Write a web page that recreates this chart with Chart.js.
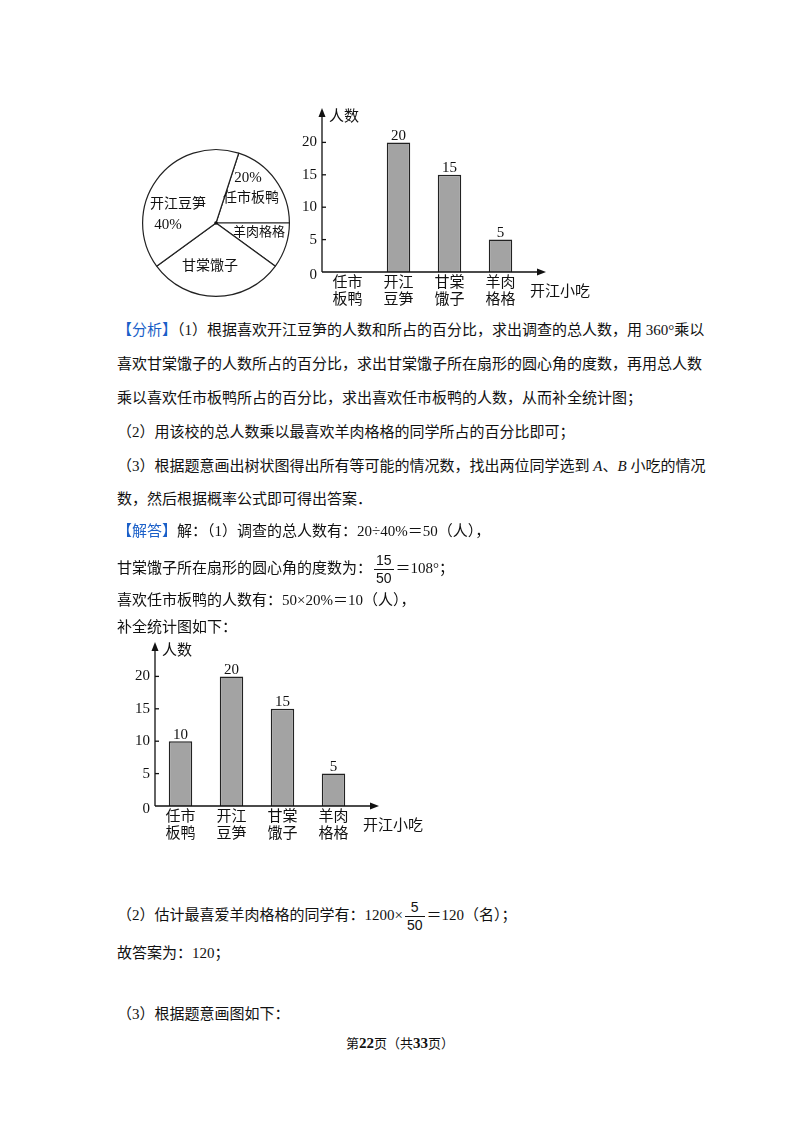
<!DOCTYPE html>
<html><head><meta charset="utf-8">
<script src="https://cdn.jsdelivr.net/npm/chart.js@4"></script>
<style>
body{margin:0;width:800px;height:1132px;background:#fff;position:relative;font-family:"Liberation Serif","Noto Sans CJK SC",serif;color:#111;}
.t{position:absolute;left:117px;font-size:15px;white-space:nowrap;line-height:20px;}
.b{color:#1a5fc8;}
.fr{display:inline-block;vertical-align:middle;text-align:center;font-family:"Liberation Sans",sans-serif;font-size:14px;line-height:17px;margin:0 2px;}
.fr span{display:block;padding:0 2px;}
.fr span:first-child{border-bottom:1px solid #111;}
canvas{position:absolute;}
</style></head><body>
<canvas id="pie" style="left:130px;top:130px;width:180px;height:180px" width="180" height="180"></canvas>
<canvas id="bar1" style="left:290px;top:95px;width:310px;height:220px" width="310" height="220"></canvas>
<canvas id="bar2" style="left:123px;top:630px;width:310px;height:225px" width="310" height="225"></canvas>

<div class="t" style="top:320px"><span class="b">【分析】</span>（1）根据喜欢开江豆笋的人数和所占的百分比，求出调查的总人数，用 360°乘以</div>
<div class="t" style="top:354px">喜欢甘棠馓子的人数所占的百分比，求出甘棠馓子所在扇形的圆心角的度数，再用总人数</div>
<div class="t" style="top:388px">乘以喜欢任市板鸭所占的百分比，求出喜欢任市板鸭的人数，从而补全统计图；</div>
<div class="t" style="top:422px">（2）用该校的总人数乘以最喜欢羊肉格格的同学所占的百分比即可；</div>
<div class="t" style="top:456px">（3）根据题意画出树状图得出所有等可能的情况数，找出两位同学选到 <i>A</i>、<i>B</i> 小吃的情况</div>
<div class="t" style="top:489px">数，然后根据概率公式即可得出答案．</div>
<div class="t" style="top:521px"><span class="b">【解答】</span>解：（1）调查的总人数有：20÷40%＝50（人），</div>
<div class="t" style="top:549px;line-height:38px">甘棠馓子所在扇形的圆心角的度数为：<span class="fr"><span>15</span><span>50</span></span>＝108°；</div>
<div class="t" style="top:590px">喜欢任市板鸭的人数有：50×20%＝10（人），</div>
<div class="t" style="top:617px">补全统计图如下：</div>
<div class="t" style="top:896px;line-height:38px">（2）估计最喜爱羊肉格格的同学有：1200×<span class="fr"><span>5</span><span>50</span></span>＝120（名）；</div>
<div class="t" style="top:943px">故答案为：120；</div>
<div class="t" style="top:1004px">（3）根据题意画图如下：</div>
<div class="t" style="top:1033px;left:0;width:800px;text-align:center;font-size:13px">第<b style="font-size:15px">22</b>页（共<b style="font-size:15px">33</b>页）</div>

<script>
const foods = [["任市","板鸭"],["开江","豆笋"],["甘棠","馓子"],["羊肉","格格"]];
const pieLabels = ["任市板鸭","羊肉格格","甘棠馓子","开江豆笋"];
const piePercent = [20, 10, 30, 40];
const countsPartial = [null, 20, 15, 5];
const countsFull = [10, 20, 15, 5];
const yTicks = [0, 5, 10, 15, 20];

const serif = '"Liberation Serif","Noto Sans CJK SC",serif';
const cjk = '"Noto Sans CJK SC",sans-serif';

// 饼图
new Chart(document.getElementById("pie"), {
  type: "pie",
  data: { labels: pieLabels, datasets: [{ data: piePercent, backgroundColor: "#fff", borderColor: "#222", borderWidth: 1.2 }] },
  options: {
    responsive: false, animation: false, rotation: 18,
    layout: { padding: { left: 12, top: 18, right: 20, bottom: 12 } },
    plugins: { legend: { display: false }, tooltip: { enabled: false } }
  },
  plugins: [{
    id: "pieText",
    afterDraw(c) {
      const arc = c.getDatasetMeta(0).data[0];
      const cx = arc.x, cy = arc.y, ctx = c.ctx;
      ctx.save();
      ctx.fillStyle = "#111";
      ctx.beginPath(); ctx.arc(cx, cy, 1.8, 0, Math.PI * 2); ctx.fill();
      ctx.textAlign = "center"; ctx.textBaseline = "middle";
      ctx.font = "14px " + cjk;
      ctx.fillText("任市板鸭", cx + 35, cy - 26);
      ctx.fillText("开江豆笋", cx - 38, cy - 20);
      ctx.fillText("甘棠馓子", cx - 6, cy + 42);
      ctx.font = "13px " + cjk;
      ctx.fillText("羊肉格格", cx + 43, cy + 8);
      ctx.font = "15px " + serif;
      ctx.fillText("20%", cx + 32, cy - 45);
      ctx.fillText("40%", cx - 48, cy + 2);
      ctx.restore();
    }
  }]
});

const axisPlugin = {
  id: "axes",
  afterDraw(c) {
    const ctx = c.ctx, x = c.scales.x, y = c.scales.y, a = c.chartArea;
    ctx.save();
    ctx.strokeStyle = "#111"; ctx.fillStyle = "#111"; ctx.lineWidth = 1.3;
    const x0 = a.left, y0 = y.getPixelForValue(0);
    const top = a.top - 2, right = a.right + 20;
    ctx.beginPath(); ctx.moveTo(x0, y0); ctx.lineTo(x0, top + 6); ctx.moveTo(x0, y0); ctx.lineTo(right - 6, y0); ctx.stroke();
    ctx.beginPath(); ctx.moveTo(x0, top); ctx.lineTo(x0 - 3.5, top + 9); ctx.lineTo(x0 + 3.5, top + 9); ctx.fill();
    ctx.beginPath(); ctx.moveTo(right, y0); ctx.lineTo(right - 9, y0 - 3.5); ctx.lineTo(right - 9, y0 + 3.5); ctx.fill();
    // 刻度
    ctx.font = "15px " + serif; ctx.textAlign = "right"; ctx.textBaseline = "middle";
    yTicks.forEach(v => {
      const py = y.getPixelForValue(v);
      if (v > 0) { ctx.beginPath(); ctx.moveTo(x0, py); ctx.lineTo(x0 + 4, py); ctx.stroke(); }
      ctx.fillText(String(v), x0 - 5, v === 0 ? py + 3 : py);
    });
    // 类别
    ctx.font = "15px " + cjk; ctx.textAlign = "center"; ctx.textBaseline = "top";
    foods.forEach((f, i) => {
      const px = x.getPixelForValue(i);
      ctx.fillText(f[0], px, y0 + 2); ctx.fillText(f[1], px, y0 + 19);
    });
    ctx.textAlign = "left"; ctx.fillText("开江小吃", right - 16, y0 + 11);
    ctx.textBaseline = "middle";
    ctx.fillText("人数", x0 + 7, top + 7);
    // 数值
    ctx.font = "15px " + serif; ctx.textAlign = "center"; ctx.textBaseline = "bottom";
    c.getDatasetMeta(0).data.forEach((b, i) => {
      const v = c.data.datasets[0].data[i];
      if (v != null) ctx.fillText(String(v), b.x, b.y + 1);
    });
    ctx.restore();
  }
};

function barChart(id, data, pad) {
  return new Chart(document.getElementById(id), {
    type: "bar",
    data: { labels: foods.map(f => f.join("")), datasets: [{ data: data, backgroundColor: "#a3a3a3", borderColor: "#222", borderWidth: 1.5, barPercentage: 0.46, categoryPercentage: 1 }] },
    options: {
      responsive: false, animation: false,
      layout: { padding: pad },
      plugins: { legend: { display: false }, tooltip: { enabled: false } },
      scales: {
        x: { display: false, grid: { display: false } },
        y: { display: false, min: 0, max: 25, grid: { display: false } }
      }
    },
    plugins: [axisPlugin]
  });
}

barChart("bar1", countsPartial, { left: 32, right: 74, top: 15, bottom: 43 });
barChart("bar2", countsFull, { left: 32, right: 74, top: 14, bottom: 49 });
</script>
</body></html>
